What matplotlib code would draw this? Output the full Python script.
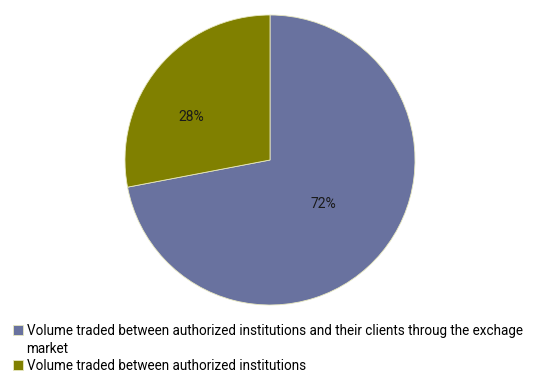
import numpy as np
import matplotlib.pyplot as plt
from matplotlib.patches import Patch

plt.rcParams['font.family'] = ['Roboto', 'DejaVu Sans']

labels = ['Volume traded between authorized institutions and their clients throug the exchage market',
          'Volume traded between authorized institutions']
shares = [72, 28]
colors = ['#69729f', '#808000']
# label distance from centre (fraction of radius) and angle shift in degrees
label_dist = [0.48, 0.62]
label_turn = [0, 11]

fig = plt.figure(figsize=(5.39, 3.73), dpi=100)
ax = fig.add_axes([125/539, 68/373, 290/539, 290/373])

wedges, texts, autotexts = ax.pie(shares, colors=colors, startangle=90, counterclock=False,
                                  autopct='%d%%', pctdistance=0.55,
                                  wedgeprops=dict(edgecolor='#e8e8c0', linewidth=0.6),
                                  textprops=dict(fontsize=10, color='#1a1a1a'))
ax.set_aspect('equal')
ax.set_xlim(-1, 1)
ax.set_ylim(-1, 1)

for t, w, d, turn in zip(autotexts, wedges, label_dist, label_turn):
    a = np.deg2rad((w.theta1 + w.theta2) / 2 + turn)
    t.set_position((d * np.cos(a), d * np.sin(a)))

# first label wraps onto a second row with the square only on the first row
first, rest = labels[0].rsplit(' ', 1)
handles = [wedges[0], Patch(facecolor='none', edgecolor='none'), wedges[1]]
rows = [first, rest, labels[1]]

fig.legend(handles, rows, loc='upper left', bbox_to_anchor=(13/539, 1 - 324/373),
           frameon=False, fontsize=9.75, handlelength=0.72, handleheight=0.72,
           handletextpad=0.28, labelspacing=0.26, borderaxespad=0, borderpad=0)

fig.savefig('out.png', dpi=100)
